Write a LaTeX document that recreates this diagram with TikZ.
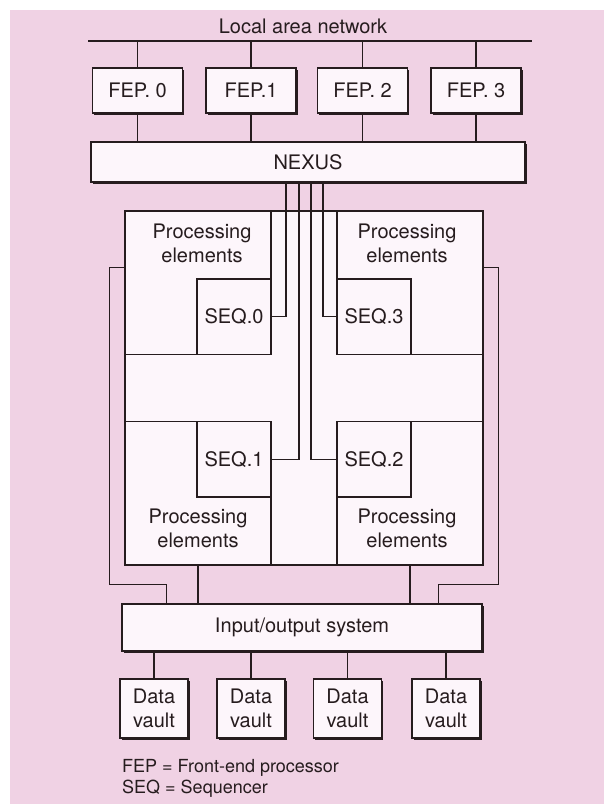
\documentclass[tikz,border=0pt]{standalone}
\usepackage{fontspec}
\setmainfont{TeX Gyre Heros}
\usetikzlibrary{positioning, shadows}
\definecolor{bgpink}{RGB}{240,210,228}
\definecolor{boxwhite}{RGB}{253,246,251}
\definecolor{ink}{RGB}{38,28,30}

\begin{document}
\begin{tikzpicture}[x=1pt, y=-1pt,
  unit/.style={draw=ink, line width=1.5pt, fill=boxwhite, inner sep=0pt,
    font=\fontsize{20}{24}\selectfont, text=ink, align=center,
    drop shadow={shadow xshift=1.6pt, shadow yshift=-1.6pt, fill=ink, opacity=1}},
  part/.style={draw=ink, line width=1.5pt, fill=boxwhite, inner sep=0pt,
    font=\fontsize{20}{24}\selectfont, text=ink, align=center},
  txt/.style={font=\fontsize{20}{24}\selectfont, text=ink, align=center, inner sep=0pt},
  wire/.style={draw=ink, line width=1.3pt}]
\useasboundingbox (0,0) rectangle (604,804);
\fill[white] (0,0) rectangle (604,804);
\fill[bgpink] (10,10) rectangle (604,804);

% local area network and front ends
\coordinate (lanL) at (88,41);
\coordinate (lanR) at (532,41);
\draw[wire, line width=1.8pt] (lanL) -- (lanR);
\node[txt] (lantxt) at (303,26) {Local area network};

\node[unit, minimum width=434pt, minimum height=40pt] (nexus) at (308,162) {NEXUS};

\foreach \i/\x/\lab in {0/137.5/FEP. 0, 1/251/FEP.1, 2/362.5/FEP. 2, 3/476/FEP. 3} {
  \node[unit, minimum width=90pt, minimum height=45pt] (fep\i) at (\x,90.5) {\lab};
  \draw[wire] (fep\i.north) -- (fep\i.north |- lanL);
  \draw[wire] (fep\i.south) -- (fep\i.south |- nexus.north);
}

% processor array
\node[part, minimum width=358pt, minimum height=354pt] (core) at (304,388) {};
\node[part, anchor=north west, minimum width=146pt, minimum height=143.5pt] (pe0) at (core.north west) {};
\node[part, anchor=north east, minimum width=146pt, minimum height=143.5pt] (pe3) at (core.north east) {};
\node[part, anchor=south west, minimum width=146pt, minimum height=143.5pt] (pe1) at (core.south west) {};
\node[part, anchor=south east, minimum width=146pt, minimum height=143.5pt] (pe2) at (core.south east) {};
\node[part, anchor=south east, minimum width=74pt, minimum height=75.5pt] (seq0) at (pe0.south east) {SEQ.0};
\node[part, anchor=south west, minimum width=74pt, minimum height=75.5pt] (seq3) at (pe3.south west) {SEQ.3};
\node[part, anchor=north east, minimum width=74pt, minimum height=75.5pt] (seq1) at (pe1.north east) {SEQ.1};
\node[part, anchor=north west, minimum width=74pt, minimum height=75.5pt] (seq2) at (pe2.north west) {SEQ.2};
\node[txt] (pe0txt) at (202,243) {Processing\\elements};
\node[txt] (pe3txt) at (407,243) {Processing\\elements};
\node[txt] (pe1txt) at (198,528) {Processing\\elements};
\node[txt] (pe2txt) at (407,528) {Processing\\elements};

\draw[wire] ([xshift=-22pt]nexus.south) |- (seq0.east);
\draw[wire] ([xshift=-9pt]nexus.south) |- (seq1.east);
\draw[wire] ([xshift=3pt]nexus.south) |- (seq2.west);
\draw[wire] ([xshift=15pt]nexus.south) |- (seq3.west);

% input/output and data vaults
\node[unit, minimum width=360pt, minimum height=47pt] (io) at (302,627.5) {Input/output system};
\draw[wire] (pe1.south) -- (pe1.south |- io.north);
\draw[wire] (pe2.south) -- (pe2.south |- io.north);
\draw[wire] ([yshift=-57pt]core.north west) -- ++(-15,0) -- ++(0,317) -| ([xshift=45pt]io.north west);
\draw[wire] ([yshift=-57pt]core.north east) -- ++(15,0) -- ++(0,317) -| ([xshift=-44pt]io.north east);

\foreach \i/\x in {0/154, 1/251, 2/347.5, 3/446} {
  \node[unit, minimum width=68pt, minimum height=59pt] (dv\i) at (\x,708.5) {Data\\vault};
  \draw[wire] (dv\i.north) -- (dv\i.north |- io.south);
}

\node[txt, anchor=base west, font=\fontsize{18}{22}\selectfont] (legfep) at (122,772) {FEP = Front-end processor};
\node[txt, anchor=base west, font=\fontsize{18}{22}\selectfont] (legseq) at (122,793) {SEQ = Sequencer};
\end{tikzpicture}
\end{document}
